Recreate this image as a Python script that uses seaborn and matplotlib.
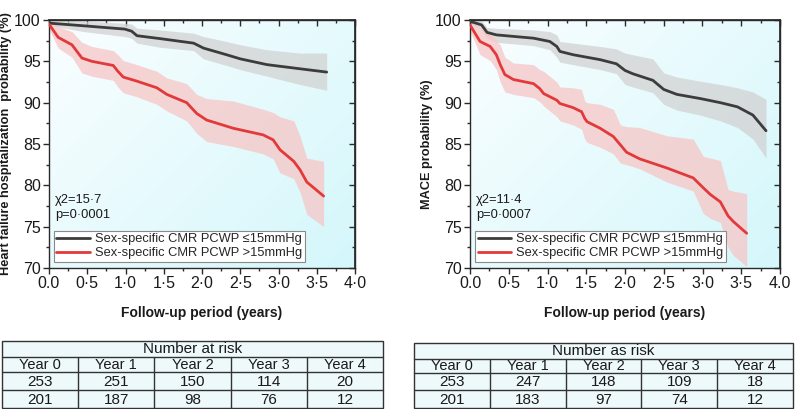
import numpy as np
import matplotlib
matplotlib.use("Agg")
import matplotlib.pyplot as plt
import seaborn as sns
from matplotlib import font_manager as fm
from matplotlib.lines import Line2D
from matplotlib.patches import Rectangle
from matplotlib.ticker import MultipleLocator

# ---------------- data ----------------
# Heart-failure hospitalization panel
hf_low_t = [0, 0.03, 0.45, 0.99, 1.08, 1.15, 1.45, 1.89, 2.02, 2.32, 2.5, 2.85, 3.28, 3.63]
hf_low_v = [99.7, 99.6, 99.3, 98.9, 98.65, 98.1, 97.75, 97.2, 96.6, 95.8, 95.3, 94.6, 94.1, 93.7]
hf_low_lo = [99.5, 99.3, 98.6, 98.0, 97.8, 97.2, 96.7, 96.3, 95.3, 94.5, 94.0, 93.2, 92.2, 91.5]
hf_low_hi = [100, 100, 99.9, 99.6, 99.5, 99.0, 98.8, 98.4, 98.0, 97.4, 97.0, 96.4, 96.0, 96.0]

hf_high_t = [0, 0.12, 0.3, 0.43, 0.56, 0.84, 0.9, 0.97, 1.15, 1.41, 1.54, 1.8, 1.93, 2.06,
             2.41, 2.8, 2.93, 3.02, 3.2, 3.28, 3.37, 3.59]
hf_high_v = [99.5, 97.9, 97.0, 95.4, 95.0, 94.5, 93.8, 93.1, 92.6, 91.8, 91.0, 90.0, 88.7, 87.9,
             86.9, 86.1, 85.5, 84.3, 82.9, 81.9, 80.4, 78.7]
hf_high_lo = [98.9, 96.6, 95.5, 93.6, 93.2, 92.7, 91.9, 91.2, 90.7, 89.8, 89.0, 87.8, 86.3, 85.3,
              84.7, 83.8, 83.2, 81.5, 80.8, 79.2, 76.5, 75.0]
hf_high_hi = [100, 99.2, 98.6, 97.3, 96.8, 96.3, 95.8, 95.1, 94.6, 93.8, 93.0, 92.3, 91.0, 90.5,
              90.2, 89.2, 88.8, 88.3, 87.8, 86.0, 83.3, 82.9]

# MACE panel
mace_low_t = [0, 0.05, 0.15, 0.22, 0.34, 0.82, 1.03, 1.12, 1.16, 1.33, 1.68, 1.89, 2.0, 2.1,
              2.36, 2.5, 2.67, 2.97, 3.23, 3.45, 3.65, 3.82]
mace_low_v = [99.8, 99.7, 99.4, 98.5, 98.2, 97.8, 97.4, 96.8, 96.2, 95.8, 95.2, 94.7, 93.9, 93.5,
              92.7, 91.6, 91.0, 90.5, 90.0, 89.5, 88.5, 86.6]
mace_low_lo = [99.5, 99.3, 98.8, 97.8, 97.3, 96.9, 96.4, 95.5, 94.9, 94.6, 94.0, 93.5, 92.2, 91.9,
               91.2, 89.8, 89.1, 88.5, 87.8, 87.0, 85.6, 83.3]
mace_low_hi = [100, 100, 99.9, 99.1, 99.0, 98.8, 98.6, 98.2, 97.4, 97.2, 96.8, 96.5, 96.0, 95.8,
               95.3, 93.6, 93.1, 92.6, 92.2, 91.8, 91.3, 90.4]

mace_high_t = [0, 0.13, 0.26, 0.34, 0.39, 0.45, 0.56, 0.82, 0.9, 0.95, 1.12, 1.16, 1.33, 1.44,
               1.48, 1.51, 1.68, 1.85, 1.94, 2.02, 2.19, 2.54, 2.88, 3.01, 3.1, 3.23, 3.33, 3.4, 3.57]
mace_high_v = [99.4, 97.4, 96.8, 95.8, 94.6, 93.4, 92.8, 92.3, 91.7, 91.1, 90.3, 89.9, 89.4, 88.9,
               88.1, 87.7, 86.9, 85.9, 84.9, 84.0, 83.2, 82.1, 80.9, 79.7, 78.9, 78.0, 76.3, 75.6, 74.2]
mace_high_lo = [98.7, 95.8, 95.1, 94.0, 92.5, 91.3, 91.0, 90.6, 90.1, 89.6, 88.3, 87.8, 87.3, 86.8,
                85.6, 85.2, 84.6, 83.8, 82.7, 82.5, 82.0, 80.4, 79.3, 76.6, 76.0, 75.5, 72.5, 71.5, 70.2]
mace_high_hi = [100, 99.0, 98.5, 97.5, 97.0, 95.5, 94.8, 94.6, 94.0, 93.8, 92.5, 91.9, 91.8, 91.6,
                90.2, 90.0, 89.8, 89.2, 87.3, 87.1, 87.0, 86.0, 85.6, 83.5, 83.3, 83.0, 79.5, 79.3, 79.0]

legend_labels = ["Sex-specific CMR PCWP \u226415mmHg", "Sex-specific CMR PCWP >15mmHg"]
hf_stats = ["\u03c72=15\u00b77", "p=0\u00b70001"]
mace_stats = ["\u03c72=11\u00b74", "p=0\u00b70007"]
hf_xticklabels = ["0.0", "0\u00b75", "1\u00b70", "1\u00b75", "2\u00b70", "2\u00b75", "3\u00b70", "3\u00b75", "4\u00b70"]
mace_xticklabels = ["0.0", "0\u00b75", "1\u00b70", "1\u00b75", "2\u00b70", "2\u00b75", "3\u00b70", "3\u00b75", "4.0"]

table_years = ["Year 0", "Year 1", "Year 2", "Year 3", "Year 4"]
hf_risk_low = [253, 251, 150, 114, 20]
hf_risk_high = [201, 187, 98, 76, 12]
mace_risk_low = [253, 247, 148, 109, 18]
mace_risk_high = [201, 183, 97, 74, 12]

# ---------------- style ----------------
sns.set_theme(style="white")
plt.rcParams["font.family"] = ["Liberation Sans", "DejaVu Sans"]
names = {f.name for f in fm.fontManager.ttflist}
narrow = "Liberation Sans Narrow" if "Liberation Sans Narrow" in names else "Liberation Sans"

DARK = "#3c3c3c"
RED = "#e23a3a"
GRAYBAND = "#d2d2d2"
REDBAND = "#f7c6c6"
SPINE = "#2a2a2a"

W, H = 797, 409
fig = plt.figure(figsize=(W / 100, H / 100), dpi=100)
fig.patch.set_facecolor("white")


def px_axes(x0, y0, x1, y1):
    return fig.add_axes([x0 / W, (H - y1) / H, (x1 - x0) / W, (y1 - y0) / H])


def panel(ax, lt, lv, llo, lhi, ht, hv, hlo, hhi, ylabel, stats, xticklabels, ylabel_x):
    # gradient background
    xx, yy = np.meshgrid(np.linspace(0, 1, 200), np.linspace(1, 0, 200))
    g = np.clip((xx * 0.55 + (1 - yy) * 0.45), 0, 1)
    c0 = np.array([250, 254, 255]) / 255
    c1 = np.array([212, 247, 251]) / 255
    img = c0 + g[..., None] * (c1 - c0)
    ax.imshow(img, extent=[0, 1, 0, 1], transform=ax.transAxes, aspect="auto",
              zorder=0, interpolation="bilinear")
    ax.set_facecolor("none")

    ax.fill_between(lt, llo, lhi, color=GRAYBAND, alpha=0.75, lw=0, zorder=1)
    ax.fill_between(ht, hlo, hhi, color=REDBAND, alpha=0.75, lw=0, zorder=1)
    sns.lineplot(x=lt, y=lv, ax=ax, color=DARK, lw=2.0, estimator=None, sort=False, zorder=3,
                 solid_joinstyle="round", solid_capstyle="round")
    sns.lineplot(x=ht, y=hv, ax=ax, color=RED, lw=2.0, estimator=None, sort=False, zorder=3,
                 solid_joinstyle="round", solid_capstyle="round")

    ax.set_xlim(0, 4)
    ax.set_ylim(70, 100)
    ax.set_xticks(np.arange(0, 4.01, 0.5))
    ax.set_xticklabels(xticklabels)
    ax.set_yticks(np.arange(70, 100.1, 5))
    ax.set_yticklabels([str(v) for v in range(70, 101, 5)])
    ax.xaxis.set_minor_locator(MultipleLocator(0.25))
    ax.yaxis.set_minor_locator(MultipleLocator(2.5))
    ax.tick_params(axis="both", which="both", direction="out", top=False, right=False,
                   bottom=True, left=True, color=SPINE, width=1, labelsize=11.5,
                   labelcolor="#1a1a1a")
    ax.tick_params(which="major", length=4, pad=2)
    ax.tick_params(which="minor", length=2.5)
    for s in ax.spines.values():
        s.set_visible(True)
        s.set_color(SPINE)
        s.set_linewidth(1.0)

    top = ax.secondary_xaxis("top")
    top.set_xticks(np.arange(0, 4.01, 0.5))
    top.xaxis.set_minor_locator(MultipleLocator(0.25))
    top.tick_params(which="both", direction="in", labeltop=False, color=SPINE, width=1)
    top.tick_params(which="major", length=4)
    top.tick_params(which="minor", length=2.5)
    top.spines["top"].set_color(SPINE)
    right = ax.secondary_yaxis("right")
    right.set_yticks(np.arange(70, 100.1, 5))
    right.yaxis.set_minor_locator(MultipleLocator(2.5))
    right.tick_params(which="both", direction="in", labelright=False, color=SPINE, width=1)
    right.tick_params(which="major", length=4)
    right.tick_params(which="minor", length=2.5)
    right.spines["right"].set_color(SPINE)

    ax.set_xlabel("Follow-up period (years)", fontsize=10, fontweight="bold", color="#1a1a1a")
    ax.xaxis.set_label_coords(0.5, -0.153)
    ax.set_ylabel(ylabel, fontsize=9.2, fontweight="bold", color="#1a1a1a")
    ax.yaxis.set_label_coords(ylabel_x, 0.5)

    ax.text(0.02, 0.274, stats[0], transform=ax.transAxes, fontsize=9.3, va="center",
            color="#1a1a1a", zorder=5)
    ax.text(0.02, 0.214, stats[1], transform=ax.transAxes, fontsize=9.3, va="center",
            color="#1a1a1a", zorder=5)

    handles = [Line2D([], [], color=DARK, lw=2.0), Line2D([], [], color=RED, lw=2.0)]
    leg = ax.legend(handles, legend_labels, loc="lower left", bbox_to_anchor=(0.016, 0.024),
                    borderaxespad=0, frameon=True, fancybox=False, fontsize=9.3,
                    handlelength=2.6, handletextpad=0.4, borderpad=0.2, labelspacing=0.15,
                    framealpha=1)
    leg.get_frame().set_edgecolor("#8a8a8a")
    leg.get_frame().set_linewidth(0.8)
    leg.get_frame().set_facecolor("white")
    leg.set_zorder(6)


ax1 = px_axes(49, 20, 355, 268)
panel(ax1, hf_low_t, hf_low_v, hf_low_lo, hf_low_hi, hf_high_t, hf_high_v, hf_high_lo, hf_high_hi,
      "Heart failure hospitalization  probability (%)", hf_stats, hf_xticklabels, -0.122)

ax2 = px_axes(470, 20, 780, 268)
panel(ax2, mace_low_t, mace_low_v, mace_low_lo, mace_low_hi, mace_high_t, mace_high_v,
      mace_high_lo, mace_high_hi, "MACE probability (%)", mace_stats, mace_xticklabels, -0.118)


def risk_table(x0, y0, x1, y1, title, row1, row2):
    t = px_axes(x0, y0, x1, y1)
    t.set_xlim(0, 5)
    t.set_ylim(1, 0)
    t.axis("off")
    bounds = [0, 0.24, 0.46, 0.73, 1.0]
    t.add_patch(Rectangle((0, 0), 5, 1, facecolor="#eef9fb", edgecolor="#333333", lw=1.0,
                          clip_on=False))
    for b in bounds[1:-1]:
        t.plot([0, 5], [b, b], color="#333333", lw=1.0, clip_on=False)
    for c in range(1, 5):
        t.plot([c, c], [bounds[1], 1], color="#333333", lw=1.0, clip_on=False)
    t.text(2.5, (bounds[0] + bounds[1]) / 2, title, ha="center", va="center",
           family=narrow, fontsize=11, color="#1a1a1a")
    for i in range(5):
        t.text(i + 0.5, (bounds[1] + bounds[2]) / 2 + 0.01, table_years[i], ha="center",
               va="center", family=narrow, fontsize=10.5, color="#1a1a1a")
        t.text(i + 0.5, (bounds[2] + bounds[3]) / 2 + 0.01, str(row1[i]), ha="center",
               va="center", family=narrow, fontsize=11, color="#1a1a1a")
        t.text(i + 0.5, (bounds[3] + bounds[4]) / 2 + 0.01, str(row2[i]), ha="center",
               va="center", family=narrow, fontsize=11, color="#1a1a1a")


risk_table(2, 341, 383, 408, "Number at risk", hf_risk_low, hf_risk_high)
risk_table(414, 343, 793, 408, "Number as risk", mace_risk_low, mace_risk_high)

fig.savefig("out.png", dpi=100, facecolor="white")
